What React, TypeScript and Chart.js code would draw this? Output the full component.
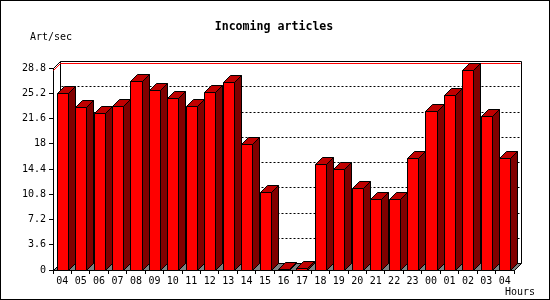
import React, { useEffect, useRef } from "react";
import { Chart, registerables } from "chart.js";

Chart.register(...registerables);

const hours = ["04", "05", "06", "07", "08", "09", "10", "11", "12", "13", "14", "15", "16", "17", "18", "19", "20", "21", "22", "23", "00", "01", "02", "03", "04"];
const articlesPerSec = [25.2, 23.3, 22.4, 23.4, 26.9, 25.6, 24.5, 23.4, 25.4, 26.8, 18.0, 11.1, 0.1, 0.3, 15.1, 14.4, 11.7, 10.1, 10.1, 15.9, 22.6, 24.9, 28.5, 21.9, 15.9];
const yTickValues = [0, 3.6, 7.2, 10.8, 14.4, 18, 21.6, 25.2, 28.8];
const titleText = "Incoming articles";
const yUnitText = "Art/sec";
const xUnitText = "Hours";

const DEPTH = 7;
const FRONT = "#ff0000";
const SIDE = "#800000";
const TOP = "#c00000";
const FLOOR = "#808080";
const MONO = "'DejaVu Sans Mono', 'Liberation Mono', monospace";

function poly(ctx: CanvasRenderingContext2D, pts: number[][], fill: string) {
  ctx.beginPath();
  ctx.moveTo(pts[0][0], pts[0][1]);
  for (let i = 1; i < pts.length; i++) ctx.lineTo(pts[i][0], pts[i][1]);
  ctx.closePath();
  ctx.fillStyle = fill;
  ctx.fill();
  ctx.strokeStyle = "#000";
  ctx.lineWidth = 1;
  ctx.stroke();
}

const threeD = {
  id: "threeD",
  beforeDraw(chart: any) {
    const ctx = chart.ctx;
    ctx.save();
    ctx.fillStyle = "#fff";
    ctx.fillRect(0, 0, chart.width, chart.height);
    ctx.restore();
  },
  beforeDatasetsDraw(chart: any) {
    const ctx: CanvasRenderingContext2D = chart.ctx;
    const { left, right, top, bottom } = chart.chartArea;
    const ys = chart.scales.y;
    const d = DEPTH;
    const L = Math.round(left) + 0.5;
    const R = Math.round(right) + 0.5;
    const T = Math.round(top) + 0.5;
    const B = Math.round(bottom) + 0.5;
    ctx.save();
    ctx.lineWidth = 1;
    ctx.strokeStyle = "#000";
    // floor
    poly(ctx, [[L, B], [R, B], [R + d, B - d], [L + d, B - d]], FLOOR);
    // back wall frame
    ctx.beginPath();
    ctx.moveTo(L + d, B - d);
    ctx.lineTo(L + d, T - d);
    ctx.lineTo(R + d, T - d);
    ctx.lineTo(R + d, B - d);
    ctx.moveTo(L, T);
    ctx.lineTo(L + d, T - d);
    ctx.stroke();
    // dotted grid on back wall
    ctx.setLineDash([2, 2]);
    for (const v of yTickValues) {
      if (v === 0 || v === yTickValues[yTickValues.length - 1]) continue;
      const y = Math.round(ys.getPixelForValue(v)) - d + 0.5;
      ctx.beginPath();
      ctx.moveTo(L + d + 1, y);
      ctx.lineTo(R + d, y);
      ctx.stroke();
    }
    ctx.setLineDash([]);
    // max line
    const maxV = Math.max(...articlesPerSec);
    const my = Math.round(ys.getPixelForValue(maxV)) - d + 0.5;
    ctx.strokeStyle = "#ff0000";
    ctx.beginPath();
    ctx.moveTo(L, my + d);
    ctx.lineTo(L + d, my);
    ctx.lineTo(R + d - 1, my);
    ctx.stroke();
    ctx.restore();
  },
  afterDatasetsDraw(chart: any) {
    const ctx: CanvasRenderingContext2D = chart.ctx;
    const meta = chart.getDatasetMeta(0);
    const d = DEPTH;
    ctx.save();
    meta.data.forEach((el: any) => {
      const p = el.getProps(["x", "y", "base", "width"], true);
      const x0 = Math.round(p.x - p.width / 2) + 0.5;
      const x1 = Math.round(p.x + p.width / 2) + 0.5;
      const y0 = Math.round(p.y) + 0.5;
      const yb = Math.round(p.base) + 0.5;
      poly(ctx, [[x1, y0], [x1 + d, y0 - d], [x1 + d, yb - d], [x1, yb]], SIDE);
      poly(ctx, [[x0, y0], [x0 + d, y0 - d], [x1 + d, y0 - d], [x1, y0]], TOP);
      poly(ctx, [[x0, y0], [x1, y0], [x1, yb], [x0, yb]], FRONT);
    });
    ctx.restore();
  },
  afterDraw(chart: any) {
    const ctx: CanvasRenderingContext2D = chart.ctx;
    ctx.save();
    ctx.fillStyle = "#000";
    ctx.textBaseline = "middle";
    ctx.font = `bold 11.6px ${MONO}`;
    ctx.textAlign = "center";
    ctx.fillText(titleText, 274, 27);
    ctx.font = `10px ${MONO}`;
    ctx.textAlign = "left";
    ctx.fillText(yUnitText, 30, 37);
    ctx.fillText(xUnitText, 505, 292);
    ctx.strokeStyle = "#000";
    ctx.lineWidth = 1;
    ctx.strokeRect(0.5, 0.5, 549, 299);
    ctx.restore();
  },
};

export default function App() {
  const ref = useRef<HTMLCanvasElement | null>(null);
  useEffect(() => {
    document.body.style.margin = "0";
    const canvas = ref.current;
    if (!canvas) return;
    const chart = new Chart(canvas, {
      type: "bar",
      data: {
        labels: hours,
        datasets: [
          {
            data: articlesPerSec,
            backgroundColor: "rgba(0,0,0,0)",
            borderWidth: 0,
            categoryPercentage: 1,
            barPercentage: 0.6,
          },
        ],
      },
      options: {
        responsive: false,
        animation: false,
        devicePixelRatio: 1,
        layout: { padding: { top: 68, right: 36, left: 0, bottom: 0 } },
        plugins: { legend: { display: false }, tooltip: { enabled: false }, title: { display: false } },
        scales: {
          x: {
            offset: true,
            grid: { offset: true, drawOnChartArea: false, drawTicks: true, tickLength: 4, color: "#000" },
            border: { display: true, color: "#000" },
            ticks: { color: "#000", font: { family: MONO, size: 10 }, padding: 1, maxRotation: 0, autoSkip: false },
            afterFit: (s: any) => { s.height = 30; },
          },
          y: {
            min: 0,
            max: 28.8,
            grid: { drawOnChartArea: false, drawTicks: true, tickLength: 4, color: "#000" },
            border: { display: true, color: "#000" },
            ticks: {
              color: "#000",
              font: { family: MONO, size: 10 },
              padding: 3,
              callback: (v: any) => String(Number(Number(v).toFixed(1))),
            },
            afterBuildTicks: (s: any) => { s.ticks = yTickValues.map((v) => ({ value: v })); },
            afterFit: (s: any) => { s.width = 53; },
          },
        },
      },
      plugins: [threeD],
    });
    return () => chart.destroy();
  }, []);
  return (
    <div style={{ width: 550, height: 300 }}>
      <canvas ref={ref} width={550} height={300} />
    </div>
  );
}
